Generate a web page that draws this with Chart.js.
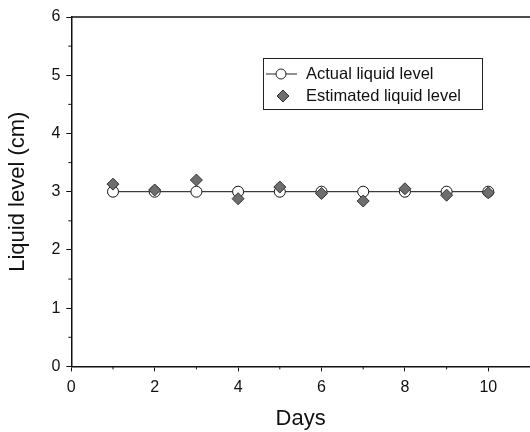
<!DOCTYPE html>
<html>
<head>
<meta charset="utf-8">
<script src="https://cdn.jsdelivr.net/npm/chart.js@4"></script>
<style>
  html, body { margin: 0; padding: 0; background: #fff; }
  #wrap { width: 530px; height: 432px; }
</style>
</head>
<body>
<div id="wrap"><canvas id="diagram" width="530" height="432"></canvas></div>
<script>
// data
const days = [1, 2, 3, 4, 5, 6, 7, 8, 9, 10];
const actualLevel = [3, 3, 3, 3, 3, 3, 3, 3, 3, 3];
const estimatedLevel = [3.13, 3.03, 3.2, 2.88, 3.08, 2.97, 2.84, 3.05, 2.94, 2.98];
const legendLabels = ['Actual liquid level', 'Estimated liquid level'];

const FONT = 'Liberation Sans, Arial, Helvetica, sans-serif';

// minor ticks, top border and the boxed legend
const extras = {
    id: 'extras',
    afterDraw(chart) {
        const ctx = chart.ctx;
        const area = chart.chartArea;
        const x = chart.scales.x;
        const y = chart.scales.y;
        ctx.save();
        ctx.strokeStyle = '#111';
        ctx.lineWidth = 1.3;
        // top frame line
        ctx.beginPath();
        ctx.moveTo(area.left, area.top);
        ctx.lineTo(area.right, area.top);
        ctx.stroke();
        // minor ticks
        ctx.lineWidth = 1;
        for (let v = 1; v < 11; v += 2) {
            const px = x.getPixelForValue(v);
            ctx.beginPath();
            ctx.moveTo(px, area.bottom);
            ctx.lineTo(px, area.bottom + 3);
            ctx.stroke();
        }
        for (let v = 0.5; v < 6; v += 1) {
            const py = y.getPixelForValue(v);
            ctx.beginPath();
            ctx.moveTo(area.left, py);
            ctx.lineTo(area.left - 3, py);
            ctx.stroke();
        }
        // legend
        const lx = 263, ly = 58, lw = 219, lh = 51;
        ctx.lineWidth = 1;
        ctx.strokeStyle = '#222';
        ctx.strokeRect(lx + 0.5, ly + 0.5, lw, lh);
        const r1 = ly + 16, r2 = ly + 38;
        ctx.beginPath();
        ctx.moveTo(lx + 3, r1);
        ctx.lineTo(lx + 34, r1);
        ctx.stroke();
        ctx.beginPath();
        ctx.arc(lx + 18, r1, 5, 0, Math.PI * 2);
        ctx.fillStyle = '#fff';
        ctx.fill();
        ctx.stroke();
        ctx.beginPath();
        ctx.moveTo(lx + 20, r2 - 6);
        ctx.lineTo(lx + 26, r2);
        ctx.lineTo(lx + 20, r2 + 6);
        ctx.lineTo(lx + 14, r2);
        ctx.closePath();
        ctx.fillStyle = '#6e6e6e';
        ctx.fill();
        ctx.strokeStyle = '#333';
        ctx.stroke();
        ctx.fillStyle = '#111';
        ctx.font = '16.5px ' + FONT;
        ctx.textBaseline = 'middle';
        ctx.fillText(legendLabels[0], lx + 43, r1);
        ctx.fillText(legendLabels[1], lx + 43, r2);
        ctx.restore();
    }
};

const ctx = document.getElementById('diagram').getContext('2d');

new Chart(ctx, {
    type: 'scatter',
    data: {
        datasets: [
            {
                label: legendLabels[1],
                data: days.map((d, i) => ({ x: d, y: estimatedLevel[i] })),
                pointStyle: 'rectRot',
                pointRadius: 6,
                pointBackgroundColor: '#6e6e6e',
                pointBorderColor: '#333',
                pointBorderWidth: 1,
                showLine: false,
                order: 0
            },
            {
                label: legendLabels[0],
                data: days.map((d, i) => ({ x: d, y: actualLevel[i] })),
                pointStyle: 'circle',
                pointRadius: 5.5,
                pointBackgroundColor: '#fff',
                pointBorderColor: '#111',
                pointBorderWidth: 1,
                borderColor: '#111',
                borderWidth: 1,
                showLine: true,
                order: 1
            }
        ]
    },
    options: {
        responsive: false,
        animation: false,
        layout: { autoPadding: false, padding: { top: 17, right: 0, left: 1, bottom: 0 } },
        plugins: {
            legend: { display: false },
            tooltip: { enabled: false }
        },
        scales: {
            x: {
                type: 'linear',
                min: 0,
                max: 11,
                afterBuildTicks: scale => {
                    scale.ticks = scale.ticks.filter(t => t.value % 2 === 0);
                },
                ticks: { stepSize: 2, color: '#111', font: { size: 16, family: FONT }, padding: 7 },
                grid: { drawOnChartArea: false, tickLength: 5, tickColor: '#111' },
                border: { color: '#111', width: 1.5 },
                title: { display: true, text: 'Days', color: '#111', font: { size: 22, family: FONT }, padding: { top: 1, bottom: 0 } }
            },
            y: {
                min: 0,
                max: 6,
                ticks: { stepSize: 1, color: '#111', font: { size: 16, family: FONT }, padding: 6 },
                grid: { drawOnChartArea: false, tickLength: 5, tickColor: '#111' },
                border: { color: '#111', width: 1.5 },
                title: { display: true, text: 'Liquid level (cm)', color: '#111', font: { size: 22, family: FONT }, padding: { bottom: 14 } }
            }
        }
    },
    plugins: [extras]
});
</script>
</body>
</html>
